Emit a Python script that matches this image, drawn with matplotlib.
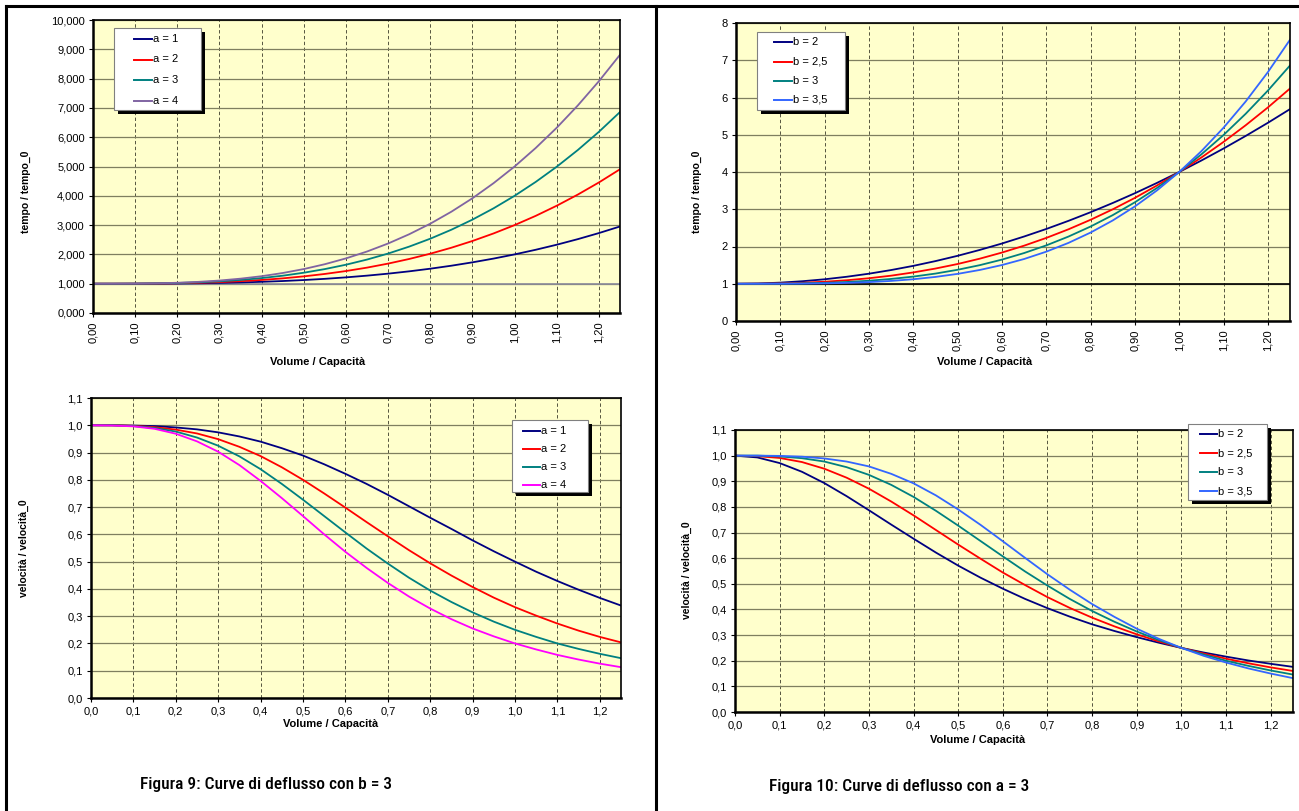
import matplotlib
matplotlib.use("Agg")
import matplotlib.pyplot as plt
from matplotlib.lines import Line2D
from matplotlib.patches import Rectangle
from matplotlib.ticker import FuncFormatter, MultipleLocator

# x values: Volume / Capacità
vc = [0.00, 0.05, 0.10, 0.15, 0.20, 0.25, 0.30, 0.35, 0.40, 0.45, 0.50, 0.55, 0.60,
      0.65, 0.70, 0.75, 0.80, 0.85, 0.90, 0.95, 1.00, 1.05, 1.10, 1.15, 1.20, 1.25]

# Figura 9 (b = 3): tempo / tempo_0
t_a1 = [1.000, 1.000, 1.001, 1.003, 1.008, 1.016, 1.027, 1.043, 1.064, 1.091, 1.125, 1.166, 1.216,
        1.275, 1.343, 1.422, 1.512, 1.614, 1.729, 1.857, 2.000, 2.158, 2.331, 2.521, 2.728, 2.953]
t_a2 = [1.000, 1.000, 1.002, 1.007, 1.016, 1.031, 1.054, 1.086, 1.128, 1.182, 1.250, 1.333, 1.432,
        1.549, 1.686, 1.844, 2.024, 2.228, 2.458, 2.715, 3.000, 3.315, 3.662, 4.042, 4.456, 4.906]
t_a3 = [1.000, 1.000, 1.003, 1.010, 1.024, 1.047, 1.081, 1.129, 1.192, 1.273, 1.375, 1.499, 1.648,
        1.824, 2.029, 2.266, 2.536, 2.842, 3.187, 3.572, 4.000, 4.473, 4.993, 5.563, 6.184, 6.859]
t_a4 = [1.000, 1.001, 1.004, 1.014, 1.032, 1.063, 1.108, 1.172, 1.256, 1.365, 1.500, 1.666, 1.864,
        2.099, 2.372, 2.688, 3.048, 3.457, 3.916, 4.430, 5.000, 5.631, 6.324, 7.084, 7.912, 8.813]

# Figura 9 (b = 3): velocità / velocità_0
v_a1 = [1.000, 1.000, 0.999, 0.997, 0.992, 0.985, 0.974, 0.959, 0.940, 0.916, 0.889, 0.857, 0.822,
        0.785, 0.745, 0.703, 0.661, 0.620, 0.578, 0.538, 0.500, 0.463, 0.429, 0.397, 0.367, 0.339]
v_a2 = [1.000, 1.000, 0.998, 0.993, 0.984, 0.970, 0.949, 0.921, 0.887, 0.846, 0.800, 0.750, 0.698,
        0.645, 0.593, 0.542, 0.494, 0.449, 0.407, 0.368, 0.333, 0.302, 0.273, 0.247, 0.224, 0.204]
v_a3 = [1.000, 1.000, 0.997, 0.990, 0.977, 0.955, 0.925, 0.886, 0.839, 0.785, 0.727, 0.667, 0.607,
        0.548, 0.493, 0.441, 0.394, 0.352, 0.314, 0.280, 0.250, 0.224, 0.200, 0.180, 0.162, 0.146]
v_a4 = [1.000, 0.999, 0.996, 0.987, 0.969, 0.941, 0.903, 0.854, 0.796, 0.733, 0.667, 0.600, 0.536,
        0.477, 0.422, 0.372, 0.328, 0.289, 0.255, 0.226, 0.200, 0.178, 0.158, 0.141, 0.126, 0.113]

# Figura 10 (a = 3): tempo / tempo_0
t_b20 = [1.000, 1.008, 1.030, 1.068, 1.120, 1.188, 1.270, 1.368, 1.480, 1.608, 1.750, 1.908, 2.080,
         2.268, 2.470, 2.688, 2.920, 3.168, 3.430, 3.708, 4.000, 4.308, 4.630, 4.968, 5.320, 5.688]
t_b25 = [1.000, 1.002, 1.009, 1.026, 1.054, 1.094, 1.148, 1.217, 1.304, 1.408, 1.530, 1.673, 1.837,
         2.022, 2.230, 2.461, 2.717, 2.998, 3.305, 3.639, 4.000, 4.389, 4.807, 5.255, 5.732, 6.241]
t_b30 = t_a3
t_b35 = [1.000, 1.000, 1.001, 1.004, 1.011, 1.023, 1.044, 1.076, 1.121, 1.183, 1.265, 1.370, 1.502,
         1.664, 1.861, 2.096, 2.374, 2.699, 3.075, 3.507, 4.000, 4.559, 5.188, 5.893, 6.679, 7.551]

# Figura 10 (a = 3): velocità / velocità_0
v_b20 = [1.000, 0.993, 0.971, 0.937, 0.893, 0.842, 0.787, 0.731, 0.676, 0.622, 0.571, 0.524, 0.481,
         0.441, 0.405, 0.372, 0.342, 0.316, 0.292, 0.270, 0.250, 0.232, 0.216, 0.201, 0.188, 0.176]
v_b25 = [1.000, 0.998, 0.991, 0.975, 0.949, 0.914, 0.871, 0.821, 0.767, 0.710, 0.653, 0.598, 0.544,
         0.495, 0.448, 0.406, 0.368, 0.334, 0.303, 0.275, 0.250, 0.228, 0.208, 0.190, 0.174, 0.160]
v_b30 = v_a3
v_b35 = [1.000, 1.000, 0.999, 0.996, 0.989, 0.977, 0.958, 0.929, 0.892, 0.845, 0.790, 0.730, 0.666,
         0.601, 0.537, 0.477, 0.421, 0.371, 0.325, 0.285, 0.250, 0.219, 0.193, 0.170, 0.150, 0.132]

labels_a = ["a = 1", "a = 2", "a = 3", "a = 4"]
labels_b = ["b = 2", "b = 2,5", "b = 3", "b = 3,5"]

plt.rcParams['font.family'] = ['Liberation Sans', 'DejaVu Sans']

W, H = 1299, 811
fig = plt.figure(figsize=(W / 100, H / 100), dpi=100)
fig.patch.set_facecolor('white')


def fx(x):
    return x / W


def fy(y):
    return 1 - y / H


def px_axes(l, t, r, b):
    return fig.add_axes([l / W, 1 - b / H, (r - l) / W, (b - t) / H])


def comma(dec):
    return FuncFormatter(lambda v, p: f"{v:.{dec}f}".replace('.', ','))


def style(ax, ymax, ystep, ydec, xdec, xrot):
    ax.set_facecolor('#FFFFCC')
    ax.set_xlim(0, 1.25)
    ax.set_ylim(0, ymax)
    ax.xaxis.set_major_locator(MultipleLocator(0.1))
    ax.yaxis.set_major_locator(MultipleLocator(ystep))
    ax.xaxis.set_major_formatter(comma(xdec))
    ax.yaxis.set_major_formatter(comma(ydec))
    ax.tick_params(labelsize=8, length=3, width=0.8, colors='black', pad=3)
    if xrot:
        for lab in ax.get_xticklabels():
            lab.set_rotation(90)
    ax.grid(axis='y', color='#7f7f5f', lw=0.9, ls='-')
    ax.grid(axis='x', color='#55553f', lw=0.7, ls=(0, (3.5, 2.5)))
    ax.set_axisbelow(True)
    for s in ['left', 'bottom']:
        ax.spines[s].set_linewidth(1.8)
    for s in ['top', 'right']:
        ax.spines[s].set_linewidth(1.2)


def ytitle(ax, text, x, y):
    ax.set_ylabel(text, fontsize=7.5, fontweight='bold')
    ax.yaxis.set_label_coords(fx(x), fy(y), transform=fig.transFigure)


def draw_legend(x0, y0, x1, y1, labels, colors, hx, hlen, ys):
    fig.add_artist(Rectangle((fx(x0 + 4), fy(y1 + 4)), (x1 - x0) / W, (y1 - y0) / H,
                             transform=fig.transFigure, fc='black', ec='none', zorder=10))
    fig.add_artist(Rectangle((fx(x0), fy(y1)), (x1 - x0) / W, (y1 - y0) / H,
                             transform=fig.transFigure, fc='white', ec='#808080', lw=0.8, zorder=11))
    for lab, c, y in zip(labels, colors, ys):
        fig.add_artist(Line2D([fx(hx), fx(hx + hlen)], [fy(y), fy(y)], color=c, lw=1.4, zorder=12))
        fig.text(fx(hx + hlen + 1), fy(y), lab, fontsize=8, va='center', ha='left', zorder=12)


lw = 1.3
cols_a_t = ['#000080', '#FF0000', '#008080', '#8064A2']
cols_a_v = ['#000080', '#FF0000', '#008080', '#FF00FF']
cols_b = ['#000080', '#FF0000', '#008080', '#3366FF']

# Figura 9 - tempo
ax1 = px_axes(93, 20, 620, 313)
ax1.axhline(1, color='#8a8a9a', lw=1.2)
for ys, c in zip([t_a1, t_a2, t_a3, t_a4], cols_a_t):
    ax1.plot(vc, ys, color=c, lw=lw)
style(ax1, 10, 1, 3, 2, True)
ytitle(ax1, 'tempo / tempo_0', 31, 192)
draw_legend(114, 28, 201, 110, labels_a, cols_a_t, 134, 18, [39, 59.5, 80, 100.5])

# Figura 9 - velocità
ax2 = px_axes(91, 398, 621, 698)
for ys, c in zip([v_a1, v_a2, v_a3, v_a4], cols_a_v):
    ax2.plot(vc, ys, color=c, lw=lw)
style(ax2, 1.1, 0.1, 1, 1, False)
ytitle(ax2, 'velocità / velocità_0', 29, 548)
draw_legend(512, 420, 588, 492, labels_a, cols_a_v, 523, 17, [431, 449, 467, 485])

# Figura 10 - tempo
ax3 = px_axes(736, 23, 1290, 321)
ax3.axhline(1, color='black', lw=1.2)
for ys, c in zip([t_b20, t_b25, t_b30, t_b35], cols_b):
    ax3.plot(vc, ys, color=c, lw=lw)
style(ax3, 8, 1, 0, 2, True)
ytitle(ax3, 'tempo / tempo_0', 702, 192)
draw_legend(757, 32, 845, 110, labels_b, cols_b, 774, 18, [42, 62, 81, 100])

# Figura 10 - velocità
ax4 = px_axes(735, 430, 1293, 712)
for ys, c in zip([v_b20, v_b25, v_b30, v_b35], cols_b):
    ax4.plot(vc, ys, color=c, lw=lw)
style(ax4, 1.1, 0.1, 1, 1, False)
ytitle(ax4, 'velocità / velocità_0', 692, 570)
draw_legend(1188, 424, 1267, 500, labels_b, cols_b, 1200, 17, [434, 453, 472, 491])

# x axis titles (centred on the chart area, not the plot area)
for x, y in [(318, 362), (331, 724), (985, 362), (978, 740)]:
    fig.text(fx(x), fy(y), 'Volume / Capacità', fontsize=8, fontweight='bold',
             ha='center', va='center')

# captions
cap_font = ['Roboto Condensed', 'Roboto', 'DejaVu Sans']
fig.text(fx(266), fy(784), 'Figura 9: Curve di deflusso con b = 3', fontsize=12.5,
         family=cap_font, fontweight='medium', ha='center', va='center')
fig.text(fx(899), fy(786), 'Figura 10: Curve di deflusso con a = 3', fontsize=12.5,
         family=cap_font, fontweight='medium', ha='center', va='center')

# table borders
for xs, ys in [([6, 1299], [6, 6]), ([6, 6], [6, 811]), ([656, 656], [6, 811])]:
    fig.add_artist(Line2D([fx(v) for v in xs], [fy(v) for v in ys], color='black', lw=2.2))

fig.savefig('out.png', dpi=100)
